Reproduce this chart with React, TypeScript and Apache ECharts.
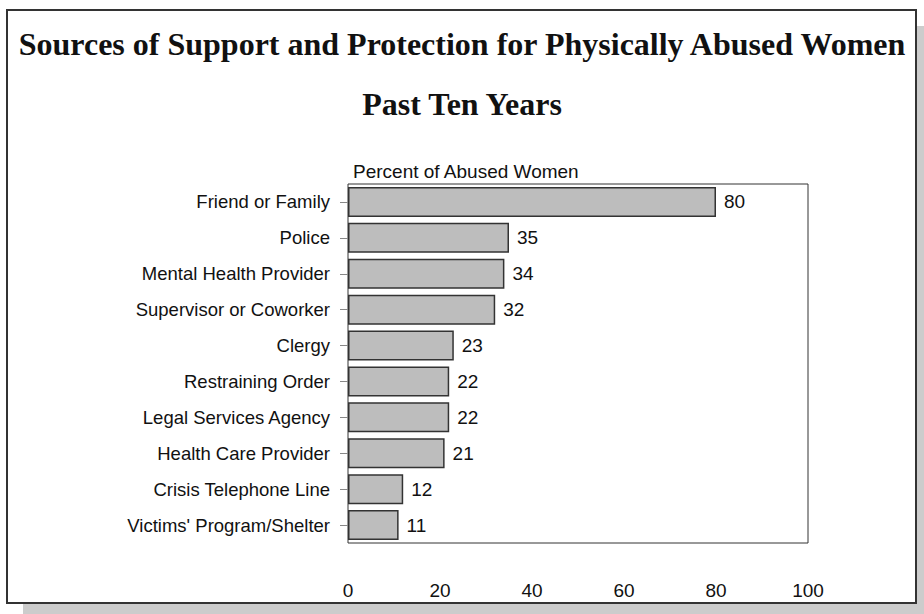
import React, { useEffect, useRef } from "react";
import * as echarts from "echarts";

const categories = [
  "Friend or Family",
  "Police",
  "Mental Health Provider",
  "Supervisor or Coworker",
  "Clergy",
  "Restraining Order",
  "Legal Services Agency",
  "Health Care Provider",
  "Crisis Telephone Line",
  "Victims' Program/Shelter",
];
const values = [80, 35, 34, 32, 23, 22, 22, 21, 12, 11];
const titleLine1 = "Sources of Support and Protection for Physically Abused Women";
const titleLine2 = "Past Ten Years";
const axisTitle = "Percent of Abused Women";

export default function App() {
  const ref = useRef<HTMLDivElement>(null);
  useEffect(() => {
    if (!ref.current) return;
    const chart = echarts.init(ref.current, null, { renderer: "svg" });
    const sans = "'Liberation Sans', Arial, sans-serif";
    const serif = "'Liberation Serif', 'Times New Roman', serif";
    chart.setOption({
      animation: false,
      backgroundColor: "#ffffff",
      graphic: [
        { type: "rect", z: -10, shape: { x: 23, y: 26, width: 901, height: 588 }, style: { fill: "#cccccc" } },
        { type: "rect", z: -9, shape: { x: 7, y: 10, width: 909, height: 593 }, style: { fill: "#ffffff", stroke: "#333333", lineWidth: 2 } },
        { type: "text", x: 462, y: 44, style: { text: titleLine1, font: `bold 32px ${serif}`, fill: "#111", align: "center", verticalAlign: "middle" } },
        { type: "text", x: 462, y: 104, style: { text: titleLine2, font: `bold 32px ${serif}`, fill: "#111", align: "center", verticalAlign: "middle" } },
        { type: "text", x: 353, y: 171, style: { text: axisTitle, font: `19px ${sans}`, fill: "#111", align: "left", verticalAlign: "middle" } },
      ],
      grid: { left: 348, right: 116, top: 184, height: 359, show: true, borderColor: "#333", borderWidth: 1, backgroundColor: "transparent" },
      xAxis: {
        type: "value",
        min: 0,
        max: 100,
        interval: 20,
        splitLine: { show: false },
        axisLine: { show: false },
        axisTick: { show: false },
        axisLabel: { fontSize: 19, fontFamily: sans, color: "#111", margin: 38 },
      },
      yAxis: {
        type: "category",
        data: categories,
        inverse: true,
        axisLine: { show: false },
        axisTick: { show: true, length: 8, alignWithLabel: true, lineStyle: { color: "#888" } },
        axisLabel: { fontSize: 18.5, fontFamily: sans, color: "#111", margin: 18 },
      },
      series: [
        {
          type: "bar",
          data: values,
          barWidth: 30,
          itemStyle: { color: "#bdbdbd", borderColor: "#333", borderWidth: 1.5 },
          label: { show: true, position: "right", distance: 8, fontSize: 19, fontFamily: sans, color: "#111" },
        },
      ],
    });
    return () => chart.dispose();
  }, []);
  return <div ref={ref} style={{ position: "absolute", left: 0, top: 0, width: 924, height: 614 }} />;
}
